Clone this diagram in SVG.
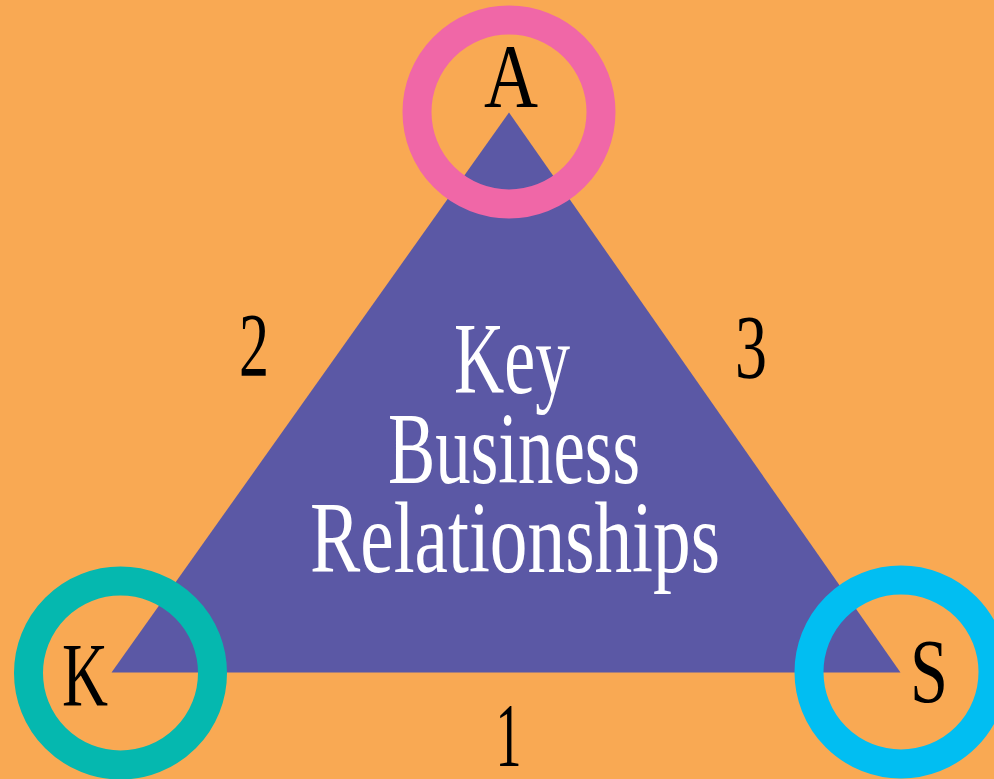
<svg xmlns="http://www.w3.org/2000/svg" width="994" height="779" viewBox="0 0 994 779">
  <style>
    .lbl { font-family: "Liberation Serif", "DejaVu Serif", serif; fill: #000; text-anchor: middle; }
    .title { font-family: "Liberation Serif", "DejaVu Serif", serif; fill: #fff; text-anchor: middle; font-size: 102px; }
    .ring { fill: none; stroke-width: 29; }
  </style>
  <rect width="994" height="779" fill="#F9A953"/>

  <!-- central triangle -->
  <g id="core">
    <polygon points="509,112.5 111.5,672.5 900.5,672.5" fill="#5B58A5"/>
    <text class="title" x="512" y="393" textLength="116" lengthAdjust="spacingAndGlyphs">Key</text>
    <text class="title" x="514" y="483" textLength="252" lengthAdjust="spacingAndGlyphs">Business</text>
    <text class="title" x="515" y="572" textLength="410" lengthAdjust="spacingAndGlyphs">Relationships</text>
  </g>

  <!-- edge numbers -->
  <g id="edges">
    <text class="lbl" x="254" y="376" font-size="90" textLength="30" lengthAdjust="spacingAndGlyphs">2</text>
    <text class="lbl" x="751" y="378" font-size="90" textLength="32" lengthAdjust="spacingAndGlyphs">3</text>
    <text class="lbl" x="508.5" y="766" font-size="90" textLength="26" lengthAdjust="spacingAndGlyphs">1</text>
  </g>

  <!-- corner nodes -->
  <g id="node-a">
    <circle class="ring" cx="509" cy="112" r="92" stroke="#F067A7"/>
    <text class="lbl" x="511" y="107" font-size="90" textLength="54" lengthAdjust="spacingAndGlyphs">A</text>
  </g>
  <g id="node-k">
    <circle class="ring" cx="120.5" cy="673" r="92" stroke="#05B8AF"/>
    <text class="lbl" x="85" y="706" font-size="90" textLength="46" lengthAdjust="spacingAndGlyphs">K</text>
  </g>
  <g id="node-s">
    <circle class="ring" cx="901" cy="672" r="92" stroke="#01BEF2"/>
    <text class="lbl" x="929" y="702" font-size="90" textLength="38" lengthAdjust="spacingAndGlyphs">S</text>
  </g>
</svg>
